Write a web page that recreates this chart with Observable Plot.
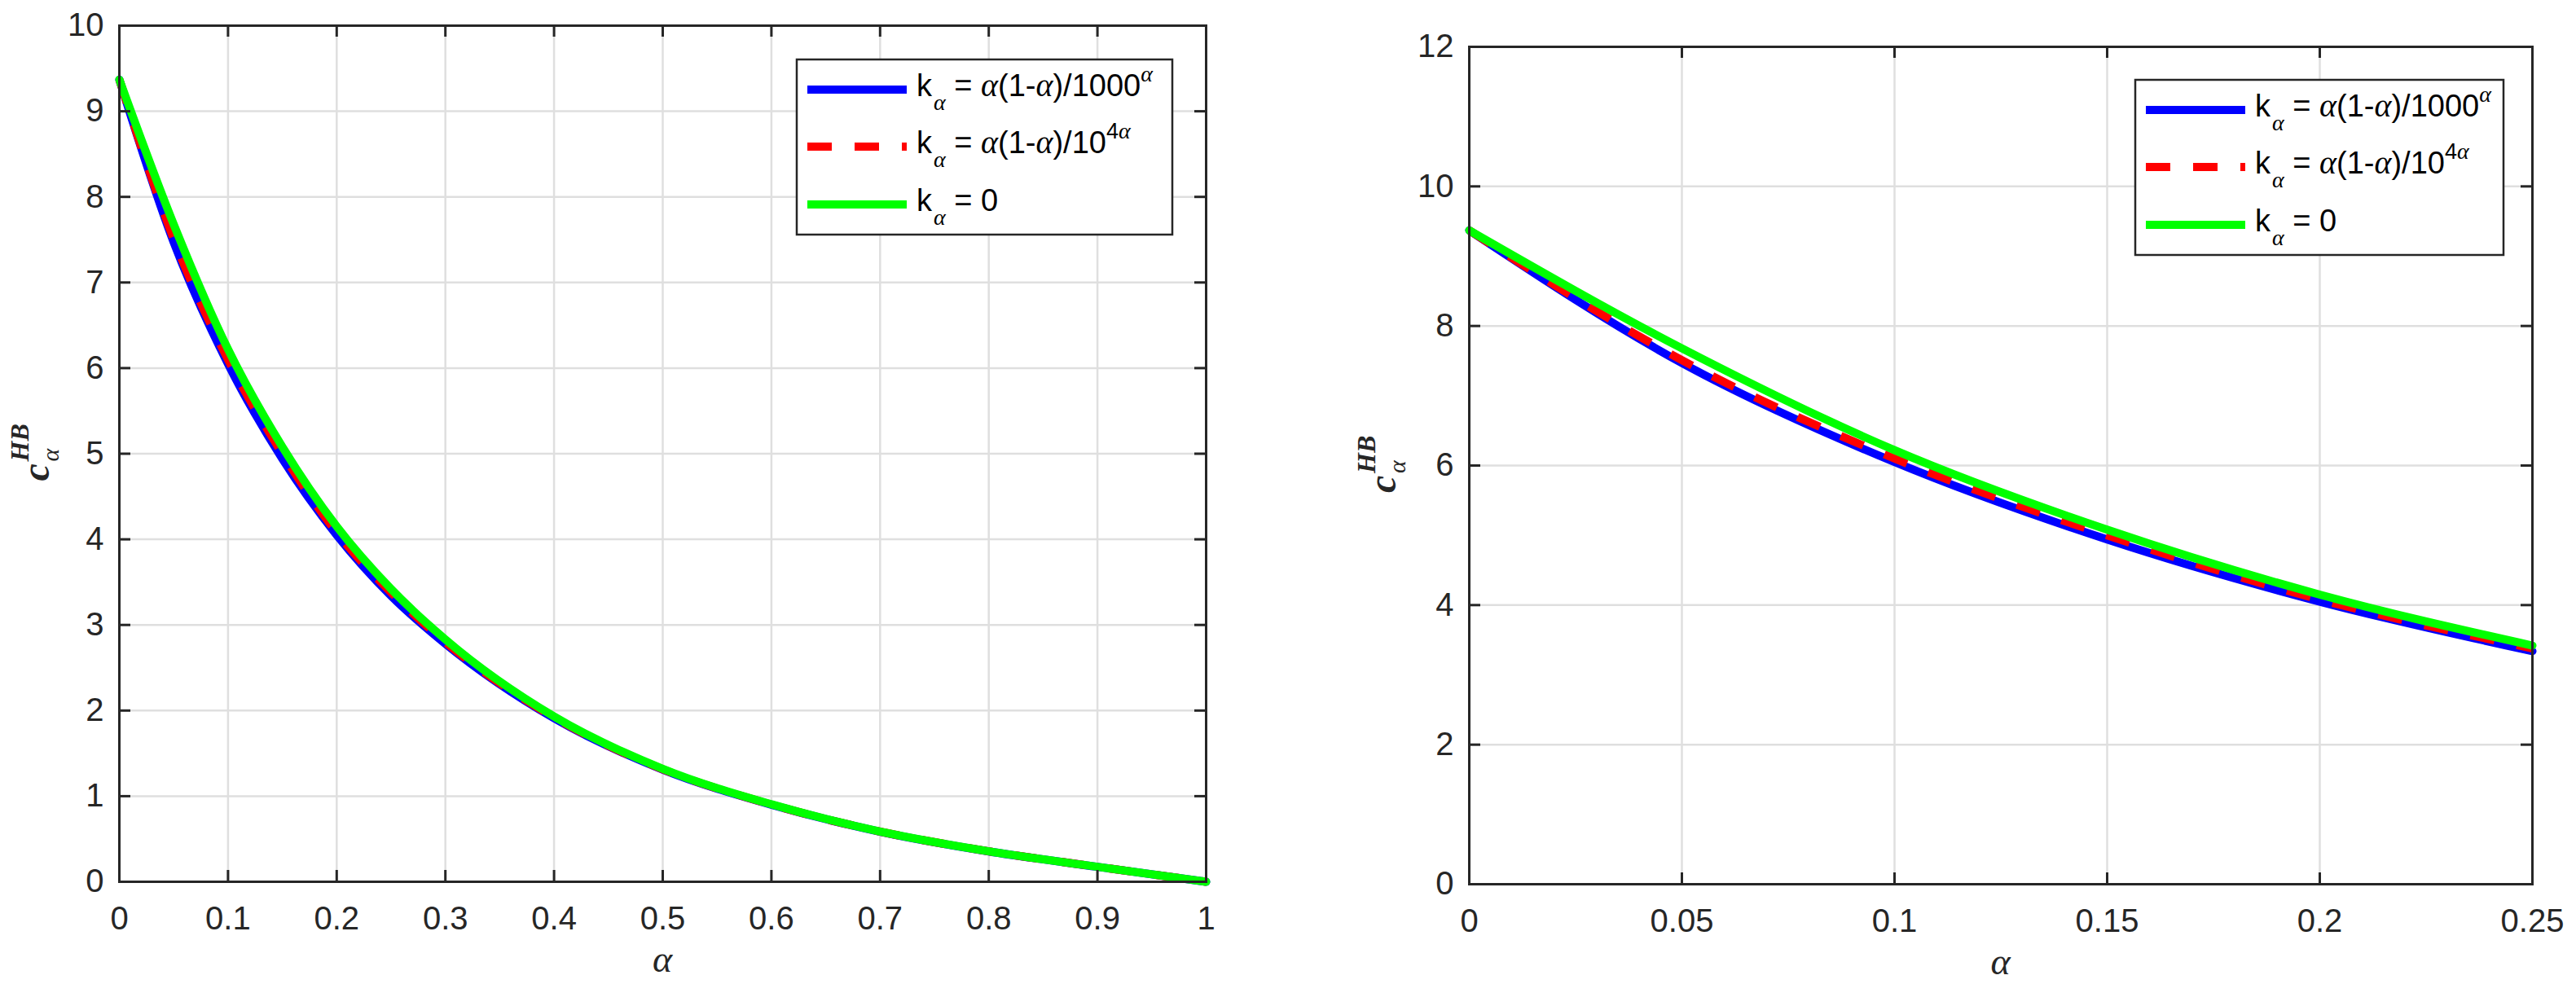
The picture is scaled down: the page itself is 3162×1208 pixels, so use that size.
<!DOCTYPE html>
<html>
<head>
<meta charset="utf-8">
<script src="https://cdn.jsdelivr.net/npm/d3@7"></script>
<script src="https://cdn.jsdelivr.net/npm/@observablehq/plot@0.6"></script>
<style>
  html, body { margin: 0; padding: 0; background: #fff; }
  #wrap { position: relative; width: 3162px; height: 1208px; background: #fff; overflow: hidden; }
  .panel { position: absolute; top: 0; }
</style>
</head>
<body>
<div id="wrap">
  <div id="left" class="panel" style="left:0px"></div>
  <div id="right" class="panel" style="left:1580px"></div>
</div>
<script>
// ---- Data ----
const alpha  = [0, 0.05, 0.1, 0.15, 0.2, 0.25, 0.3, 0.4, 0.5, 0.6, 0.7, 0.8, 0.9, 1.0];
const cBlue  = [9.37, 7.47, 6.05, 4.94, 4.05, 3.34, 2.78, 1.91, 1.31, 0.90, 0.585, 0.355, 0.175, 0];
const cRed   = [9.37, 7.51, 6.10, 5.00, 4.08, 3.38, 2.80, 1.92, 1.315, 0.902, 0.586, 0.356, 0.175, 0];
const cGreen = [9.37, 7.68, 6.22, 5.08, 4.15, 3.42, 2.83, 1.93, 1.32, 0.905, 0.587, 0.356, 0.175, 0];

const seriesKeys   = ["blue", "red", "green"];
const seriesColors = ["#0000ff", "#ff0000", "#00ff00"];
const legendTails  = ["1000", "10", null];       // denominators; null => "= 0"
const legendSups   = ["α", "4α", null];

const xTicksLeft  = [0, 0.1, 0.2, 0.3, 0.4, 0.5, 0.6, 0.7, 0.8, 0.9, 1];
const yTicksLeft  = [0, 1, 2, 3, 4, 5, 6, 7, 8, 9, 10];
const xTicksRight = [0, 0.05, 0.1, 0.15, 0.2, 0.25];
const yTicksRight = [0, 2, 4, 6, 8, 10, 12];

const seriesValues = [cBlue, cRed, cGreen];
const rows = seriesKeys.map((k, s) => alpha.map((a, i) => ({a, v: seriesValues[s][i], k})));

const TICKCOL = "#262626";
const GRIDCOL = "#dfdfdf";

function buildPanel(cfg) {
  const innerW = cfg.width - cfg.ml - cfg.mr;
  const innerH = cfg.height - cfg.mt - cfg.mb;
  const lineMarks = rows.map((r, s) => {
    const data = r.filter(d => d.a <= cfg.xmax + 1e-9);
    const o = {x: "a", y: "v", stroke: seriesColors[s], strokeWidth: 10, curve: "monotone-x"};
    if (s === 1) { o.strokeDasharray = "30,28"; o.strokeLinecap = "butt"; }
    else { o.strokeLinecap = "round"; o.strokeLinejoin = "round"; }
    return Plot.line(data, o);
  });
  const tickOpts = {stroke: TICKCOL, strokeWidth: 3};
  const chart = Plot.plot({
    width: cfg.width, height: cfg.height,
    marginLeft: cfg.ml, marginRight: cfg.mr, marginTop: cfg.mt, marginBottom: cfg.mb,
    x: {domain: [0, cfg.xmax]},
    y: {domain: [0, cfg.ymax]},
    style: {fontFamily: "'Liberation Sans', Arial, sans-serif", background: "#fff", overflow: "visible", color: TICKCOL},
    marks: [
      Plot.gridX(cfg.xTicks, {stroke: GRIDCOL, strokeOpacity: 1, strokeWidth: 2.5}),
      Plot.gridY(cfg.yTicks, {stroke: GRIDCOL, strokeOpacity: 1, strokeWidth: 2.5}),
      ...lineMarks,
      Plot.ruleX(cfg.xTicks, {x: d => d, insetTop: innerH - 14, ...tickOpts}),
      Plot.ruleX(cfg.xTicks, {x: d => d, insetBottom: innerH - 14, ...tickOpts}),
      Plot.ruleY(cfg.yTicks, {y: d => d, insetRight: innerW - 14, ...tickOpts}),
      Plot.ruleY(cfg.yTicks, {y: d => d, insetLeft: innerW - 14, ...tickOpts}),
      Plot.axisX(cfg.xTicks, {tickSize: 0, tickPadding: 30, fontSize: 40, label: null, fill: TICKCOL, tickFormat: d => String(d)}),
      Plot.axisY(cfg.yTicks, {tickSize: 0, tickPadding: 19, fontSize: 40, label: null, fill: TICKCOL, tickFormat: d => String(d)}),
      Plot.frame({stroke: TICKCOL, strokeWidth: 3})
    ]
  });
  document.getElementById(cfg.id).appendChild(chart);
  const svg = d3.select(chart);
  const frameL = cfg.ml, frameR = cfg.width - cfg.mr, frameT = cfg.mt, frameB = cfg.height - cfg.mb;

  // x label
  svg.append("text")
    .attr("x", (frameL + frameR) / 2).attr("y", frameB + 111)
    .attr("text-anchor", "middle")
    .attr("font-family", "'Liberation Serif', 'DejaVu Serif', serif")
    .attr("font-style", "italic").attr("font-size", 46).attr("fill", TICKCOL)
    .text("α");

  // y label  c_α^{HB}
  const cy = (frameT + frameB) / 2 + 34;
  const g = svg.append("g").attr("transform", `translate(${frameL - cfg.ylOff},${cy}) rotate(-90)`)
    .attr("text-anchor", "start")
    .attr("font-family", "'Liberation Serif', 'DejaVu Serif', serif").attr("fill", TICKCOL);
  g.append("text").attr("x", 0).attr("y", 0).attr("font-size", 48).attr("font-style", "italic").attr("font-weight", "bold").text("c");
  g.append("text").attr("x", 24).attr("y", 12).attr("font-size", 30).attr("font-style", "italic").text("α");
  g.append("text").attr("x", 24).attr("y", -25).attr("font-size", 32).attr("font-style", "italic").attr("font-weight", "bold").text("HB");

  // legend
  const lx = frameR - cfg.legGapR - cfg.legW, ly = frameT + cfg.legGapT;
  const lg = svg.append("g").attr("text-anchor", "start");
  lg.append("rect").attr("x", lx).attr("y", ly).attr("width", cfg.legW).attr("height", 215)
    .attr("fill", "#fff").attr("stroke", TICKCOL).attr("stroke-width", 2.5);
  const rowY = [37, 107, 178];
  seriesKeys.forEach((k, s) => {
    const yc = ly + rowY[s];
    const ln = lg.append("line").attr("x1", lx + 13).attr("x2", lx + 135).attr("y1", yc).attr("y2", yc)
      .attr("stroke", seriesColors[s]).attr("stroke-width", 10);
    if (s === 1) ln.attr("stroke-dasharray", "30,28");
    const t = lg.append("text").attr("x", lx + 147).attr("y", yc + 8)
      .attr("text-anchor", "start")
      .attr("font-family", "'Liberation Sans', Arial, sans-serif").attr("font-size", 38).attr("fill", "#000");
    const greek = (sel, size) => sel.attr("font-family", "'Liberation Serif', 'DejaVu Serif', serif").attr("font-style", "italic").attr("font-size", size);
    t.append("tspan").text("k");
    greek(t.append("tspan").attr("dx", 2).attr("dy", 17), 28).text("α");
    if (legendTails[s] === null) {
      t.append("tspan").attr("dy", -17).text(" = 0");
    } else {
      t.append("tspan").attr("dy", -17).text(" = ");
      greek(t.append("tspan"), 40).text("α");
      t.append("tspan").text("(1-");
      greek(t.append("tspan"), 40).text("α");
      t.append("tspan").text(")/" + legendTails[s]);
      const sup = legendSups[s];
      if (sup.length > 1) {
        t.append("tspan").attr("dy", -18).attr("font-size", 27).text(sup.slice(0, -1));
        greek(t.append("tspan"), 28).text("α");
      } else {
        greek(t.append("tspan").attr("dy", -18), 28).text("α");
      }
    }
  });
}

buildPanel({id: "left", width: 1560, height: 1208, ml: 146, mr: 80, mt: 31, mb: 126,
  xmax: 1, ymax: 10, xTicks: xTicksLeft, yTicks: yTicksLeft, ylOff: 86,
  legW: 461, legGapR: 41, legGapT: 42});
buildPanel({id: "right", width: 1582, height: 1208, ml: 223, mr: 54, mt: 57, mb: 123,
  xmax: 0.25, ymax: 12, xTicks: xTicksRight, yTicks: yTicksRight, ylOff: 90,
  legW: 452, legGapR: 35, legGapT: 41});
</script>
</body>
</html>
